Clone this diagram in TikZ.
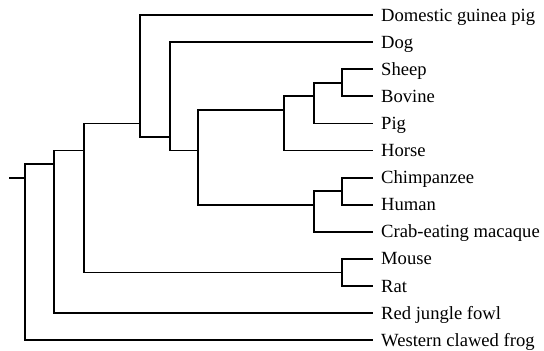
\documentclass[tikz,border=0pt]{standalone}
\usepackage{fontspec}
\setmainfont{Liberation Serif}
\begin{document}
\begin{tikzpicture}[x=1pt,y=-1pt,
  branch/.style={line width=1.8pt},
  leaflabel/.style={anchor=base west,inner sep=0pt,font=\fontsize{18.6}{21}\selectfont}]
\useasboundingbox (0,0) rectangle (544,351);
% leaves
\foreach \i/\y/\t in {0/15.0/Domestic guinea pig,1/42.1/Dog,2/69.2/Sheep,3/96.3/Bovine,4/123.4/Pig,5/150.5/Horse,6/177.6/Chimpanzee,7/204.7/Human,8/231.8/Crab-eating macaque,9/258.9/Mouse,10/286.0/Rat,11/313.1/Red jungle fowl,12/340.2/Western clawed frog}{
  \coordinate (l\i) at (373,\y);
  \node[leaflabel] (t\i) at (381,\y+6) {\t};
}
% internal nodes
\coordinate (sb) at (342,82.75);
\coordinate (sbp) at (314,96.3);
\coordinate (ung) at (284,109.85);
\coordinate (ch) at (342,191.15);
\coordinate (pri) at (314,204.7);
\coordinate (n198) at (198,150.5);
\coordinate (n170) at (170,136.95);
\coordinate (n140) at (140,123.4);
\coordinate (mr) at (342,272.45);
\coordinate (n84) at (84,150.5);
\coordinate (n54) at (54,164.05);
\coordinate (n25) at (25,177.6);
\coordinate (root) at (9,177.6);
% edges
\draw[branch] (root) -- (n25);
\draw[branch] (n25) |- (n54); \draw[branch] (n25) |- (l12);
\draw[branch] (n54) |- (n84); \draw[branch] (n54) |- (l11);
\draw[branch] (n84) |- (n140); \draw[branch] (n84) |- (mr);
\draw[branch] (mr) |- (l9); \draw[branch] (mr) |- (l10);
\draw[branch] (n140) |- (l0); \draw[branch] (n140) |- (n170);
\draw[branch] (n170) |- (l1); \draw[branch] (n170) |- (n198);
\draw[branch] (n198) |- (ung); \draw[branch] (n198) |- (pri);
\draw[branch] (ung) |- (sbp); \draw[branch] (ung) |- (l5);
\draw[branch] (sbp) |- (sb); \draw[branch] (sbp) |- (l4);
\draw[branch] (sb) |- (l2); \draw[branch] (sb) |- (l3);
\draw[branch] (pri) |- (ch); \draw[branch] (pri) |- (l8);
\draw[branch] (ch) |- (l6); \draw[branch] (ch) |- (l7);
\end{tikzpicture}
\end{document}
